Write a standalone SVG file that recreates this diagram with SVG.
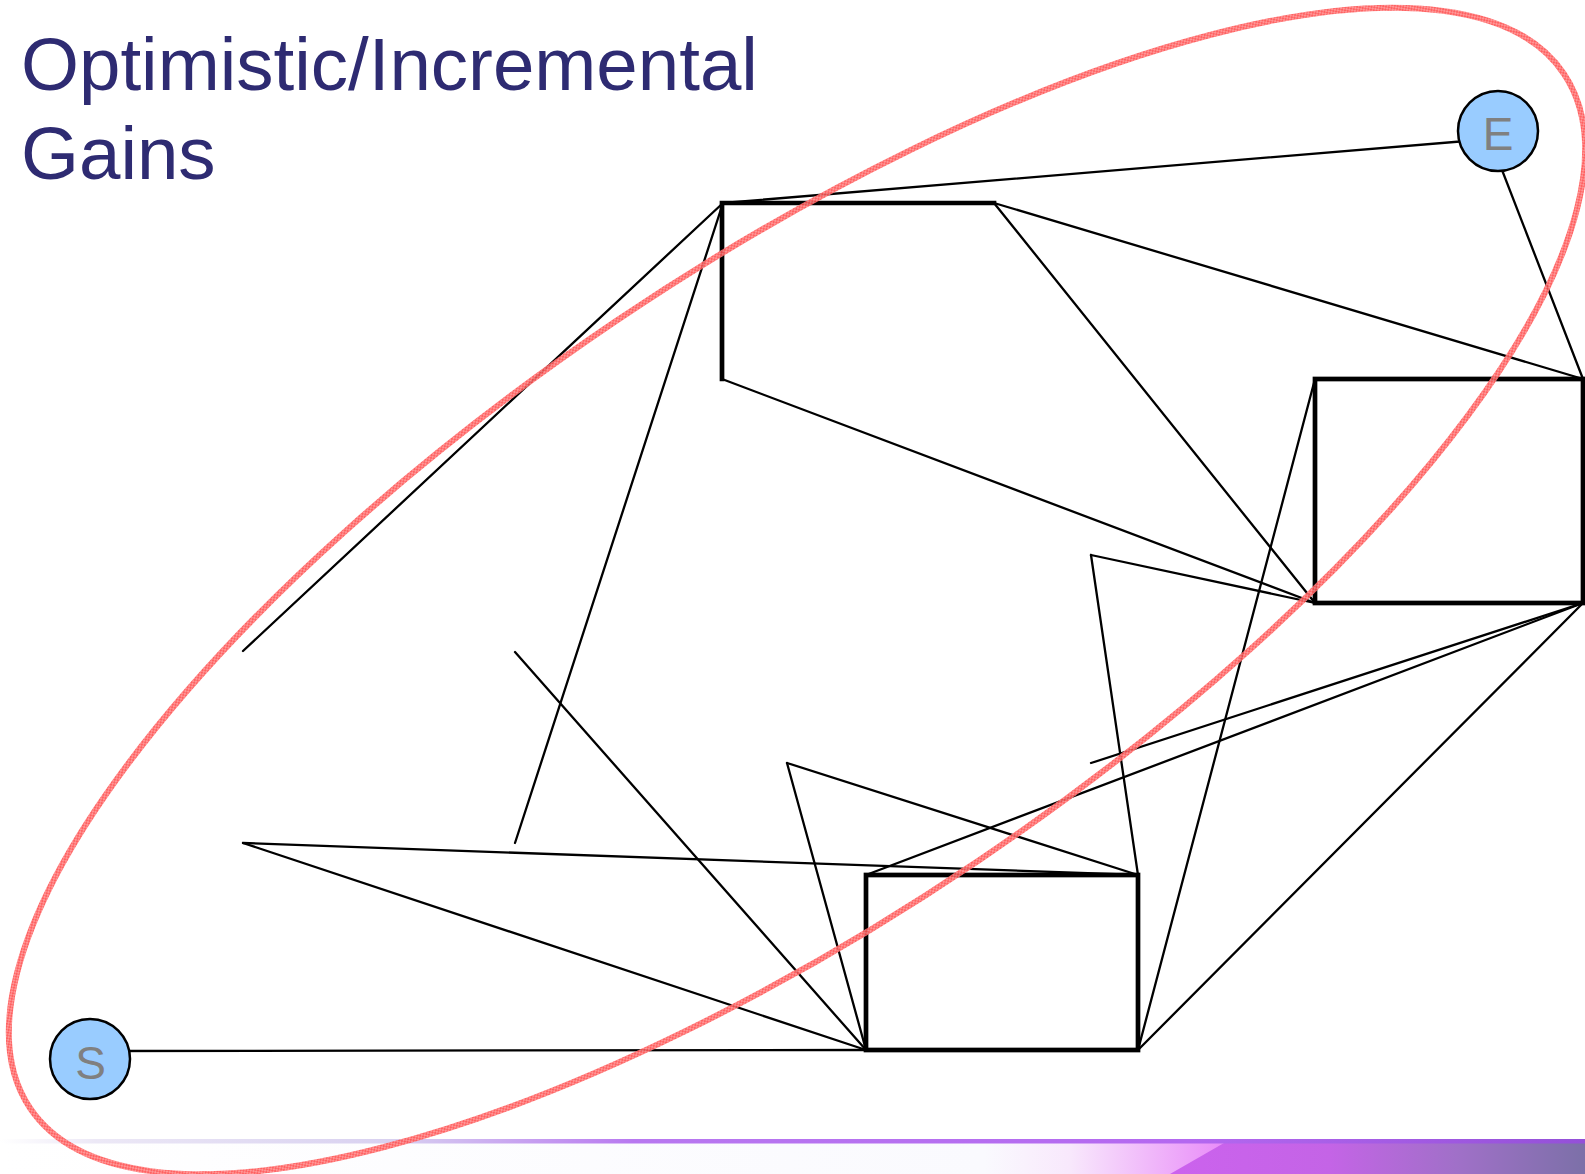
<svg xmlns="http://www.w3.org/2000/svg" width="1585" height="1174" viewBox="0 0 1585 1174">
  <style>
    .title { font-family: "Liberation Sans", Arial, sans-serif; font-size: 74.5px; fill: #2e2b72; }
    .edge { stroke: #000; stroke-width: 2.3; fill: none; stroke-linecap: round; }
    .box { stroke: #000; stroke-width: 4.7; fill: none; stroke-linecap: square; }
    .node circle { fill: #99ccff; stroke: #000; stroke-width: 2.5; }
    .node text { font-family: "Liberation Sans", Arial, sans-serif; font-size: 46px; fill: #808080; text-anchor: middle; }
  </style>
  <defs>
    <pattern id="hatch" patternUnits="userSpaceOnUse" width="4" height="4">
      <rect width="4" height="4" fill="#ff8a8a"/>
      <path d="M0,0 L4,4 M4,0 L0,4" stroke="#ff2a2a" stroke-width="0.6"/>
    </pattern>
    <linearGradient id="barLine" x1="0" y1="0" x2="1585" y2="0" gradientUnits="userSpaceOnUse">
      <stop offset="0" stop-color="#ffffff"/>
      <stop offset="0.06" stop-color="#ece8f6"/>
      <stop offset="0.25" stop-color="#d8d0f0"/>
      <stop offset="0.4" stop-color="#b878f0"/>
      <stop offset="0.75" stop-color="#b468f0"/>
      <stop offset="1" stop-color="#9450d8"/>
    </linearGradient>
    <linearGradient id="bandLeft" x1="0" y1="0" x2="1230" y2="0" gradientUnits="userSpaceOnUse">
      <stop offset="0" stop-color="#ffffff"/>
      <stop offset="0.8" stop-color="#fafafe"/>
      <stop offset="0.87" stop-color="#f8e8fc"/>
      <stop offset="1" stop-color="#e888f8"/>
    </linearGradient>
    <linearGradient id="bandRight" x1="1160" y1="0" x2="1585" y2="0" gradientUnits="userSpaceOnUse">
      <stop offset="0" stop-color="#cc62ee"/>
      <stop offset="0.4" stop-color="#c464e6"/>
      <stop offset="0.7" stop-color="#a070c8"/>
      <stop offset="1" stop-color="#7c70a8"/>
    </linearGradient>
  </defs>

  <rect width="1585" height="1174" fill="#ffffff"/>

  <!-- bottom decorative band -->
  <rect x="0" y="1143" width="1585" height="31" fill="url(#bandLeft)"/>
  <polygon points="1224,1143 1585,1143 1585,1174 1170,1174" fill="url(#bandRight)"/>
  <rect x="0" y="1139" width="1585" height="4.5" fill="url(#barLine)"/>

  <!-- title -->
  <text class="title" x="21" y="90">Optimistic/Incremental</text>
  <text class="title" x="21" y="179">Gains</text>

  <!-- connectors -->
  <g id="connectors">
    <line class="edge" x1="1490" y1="139" x2="723" y2="203"/>
    <line class="edge" x1="1490" y1="139" x2="1583" y2="379"/>
    <line class="edge" x1="994" y1="203" x2="1583" y2="379"/>
    <line class="edge" x1="994" y1="203" x2="1315" y2="603"/>
    <line class="edge" x1="722" y1="379" x2="1315" y2="603"/>
    <line class="edge" x1="723" y1="203" x2="243" y2="651"/>
    <line class="edge" x1="723" y1="203" x2="515" y2="843"/>
    <line class="edge" x1="515" y1="652" x2="866" y2="1050"/>
    <line class="edge" x1="243" y1="843" x2="866" y2="1050"/>
    <line class="edge" x1="243" y1="843" x2="1138" y2="875"/>
    <line class="edge" x1="787" y1="763" x2="866" y2="1050"/>
    <line class="edge" x1="787" y1="763" x2="1138" y2="875"/>
    <line class="edge" x1="1091" y1="555" x2="1138" y2="875"/>
    <line class="edge" x1="1091" y1="555" x2="1315" y2="603"/>
    <line class="edge" x1="1315" y1="379" x2="1138" y2="1050"/>
    <line class="edge" x1="1091" y1="763" x2="1583" y2="603"/>
    <line class="edge" x1="866" y1="875" x2="1583" y2="603"/>
    <line class="edge" x1="1138" y1="1050" x2="1583" y2="603"/>
    <line class="edge" x1="99" y1="1051" x2="866" y2="1050"/>
  </g>

  <!-- boxes -->
  <g id="box-top">
    <polyline class="box" points="994,203 722,203 722,379"/>
  </g>
  <g id="box-right">
    <rect class="box" x="1315" y="379" width="268" height="224"/>
  </g>
  <g id="box-bottom">
    <rect class="box" x="866" y="875" width="272" height="175"/>
  </g>

  <!-- nodes -->
  <g id="node-E" class="node">
    <circle cx="1498" cy="131" r="40"/>
    <text x="1498" y="150">E</text>
  </g>
  <g id="node-S" class="node">
    <circle cx="90" cy="1059" r="40"/>
    <text x="90.5" y="1079">S</text>
  </g>

  <!-- highlight ellipse -->
  <g id="highlight">
    <ellipse cx="797" cy="591" rx="925" ry="325" transform="rotate(-34 797 591)" fill="none" stroke="url(#hatch)" stroke-width="6" opacity="0.9"/>
  </g>
</svg>
